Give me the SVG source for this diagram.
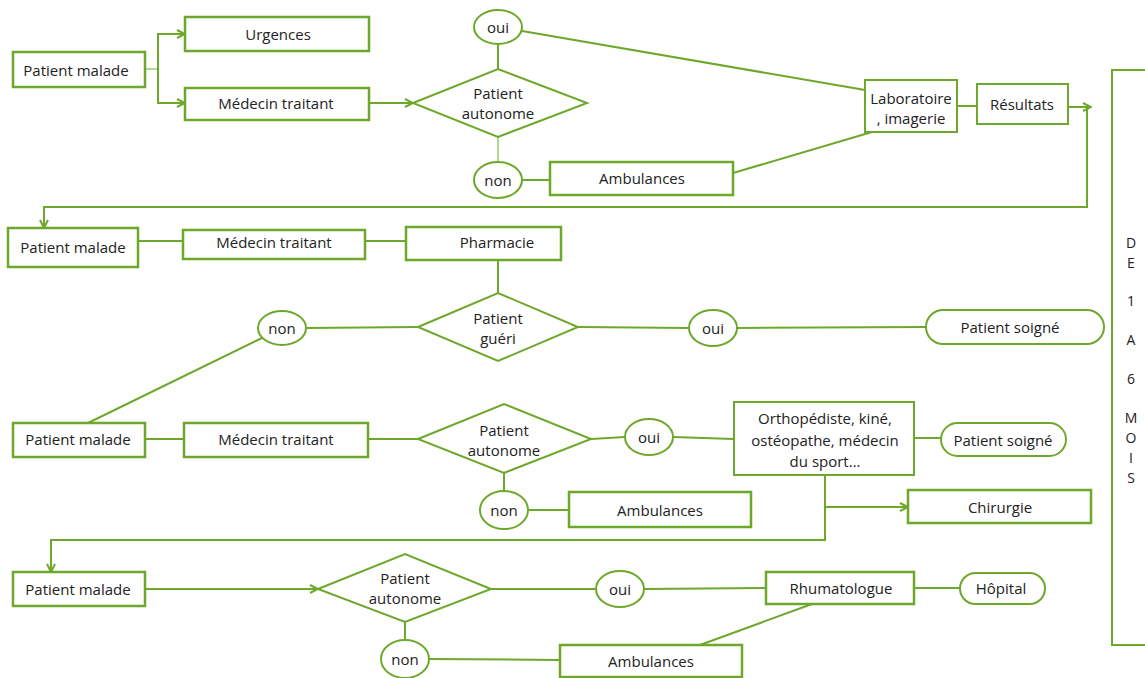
<svg xmlns="http://www.w3.org/2000/svg" width="1145" height="678" viewBox="0 0 1145 678">
<style>
.b{fill:#fff;stroke:#6DA82B;stroke-width:2}
.b2{fill:#fff;stroke:#6DA82B;stroke-width:2.5}
.c{fill:none;stroke:#6DA82B;stroke-width:2}
.cl{fill:none;stroke:#9CC86A;stroke-width:1.5}
text{font-family:"Open Sans","Noto Sans","DejaVu Sans",sans-serif;font-size:15px;fill:#222;text-anchor:middle;dominant-baseline:central}
.v{font-size:14px}
</style>
<defs>
<marker id="ar" viewBox="0 0 10 10" refX="9" refY="5" markerWidth="10" markerHeight="10" markerUnits="userSpaceOnUse" orient="auto">
<path d="M1,1 L9,5 L1,9" fill="none" stroke="#6DA82B" stroke-width="2"/>
</marker>
</defs>
<g id="connectors">
<path class="cl" d="M145,69 H158"/>
<path class="c" d="M158,69 V34 H185" marker-end="url(#ar)"/>
<path class="c" d="M158,69 V103 H185" marker-end="url(#ar)"/>
<path class="c" d="M369,103 H413" marker-end="url(#ar)"/>
<path class="c" d="M498,69 V44"/>
<path class="cl" d="M498,137 V162"/>
<path class="c" d="M522,180 H550"/>
<path class="c" d="M522,31 L865,90"/>
<path class="c" d="M733,173 L872,132"/>
<path class="c" d="M957,106 H977"/>
<path class="c" d="M1068,107 H1091" marker-end="url(#ar)"/>
<path class="c" d="M1087,107 V207 H44 V228" marker-end="url(#ar)"/>
<path class="c" d="M138,241 H183"/>
<path class="c" d="M365,241 H406"/>
<path class="c" d="M498,260 V293"/>
<path class="c" d="M306,328 L418,327"/>
<path class="c" d="M578,327 L689,328"/>
<path class="c" d="M737,328 L926,327"/>
<path class="c" d="M262,338 L88,423"/>
<path class="c" d="M145,439 H184"/>
<path class="c" d="M368,439 H418"/>
<path class="c" d="M591,439 L625,437"/>
<path class="c" d="M673,437 L734,439"/>
<path class="c" d="M914,438 H941"/>
<path class="c" d="M504,473 V491"/>
<path class="c" d="M528,510 H569"/>
<path class="c" d="M825,475 V540 H51 V572" marker-end="url(#ar)"/>
<path class="c" d="M825,507 H908" marker-end="url(#ar)"/>
<path class="c" d="M145,589 H318" marker-end="url(#ar)"/>
<path class="c" d="M491,589 H596"/>
<path class="c" d="M644,589 L766,588"/>
<path class="c" d="M914,588 H960"/>
<path class="c" d="M405,622 V640"/>
<path class="c" d="M429,659 L560,660"/>
<path class="c" d="M812,604 L700,645"/>
<path class="c" d="M1145,70 H1112 V645 H1145"/>
</g>
<g id="n1"><rect class="b2" x="13" y="52" width="132" height="35"/><text x="76" y="70">Patient malade</text></g>
<g id="n2"><rect class="b2" x="185" y="17" width="184" height="34"/><text x="278" y="34">Urgences</text></g>
<g id="n3"><rect class="b2" x="185" y="88" width="184" height="32"/><text x="276" y="103">Médecin traitant</text></g>
<g id="n4"><path class="b" d="M413,103 L498,69 L587,103 L498,137 Z"/><text x="498" y="93">Patient</text><text x="498" y="113">autonome</text></g>
<g id="n5"><ellipse class="b" cx="498" cy="27" rx="24" ry="17"/><text x="498" y="27">oui</text></g>
<g id="n6"><ellipse class="b" cx="498" cy="180" rx="24" ry="18"/><text x="498" y="180">non</text></g>
<g id="n7"><rect class="b2" x="550" y="162" width="183" height="33"/><text x="642" y="178">Ambulances</text></g>
<g id="n8"><rect class="b" x="865" y="80" width="92" height="52"/><text x="911" y="98">Laboratoire</text><text x="911" y="118">, imagerie</text></g>
<g id="n9"><rect class="b" x="977" y="84" width="91" height="40"/><text x="1022" y="104">Résultats</text></g>
<g id="n10"><rect class="b2" x="8" y="228" width="130" height="39"/><text x="73" y="247">Patient malade</text></g>
<g id="n11"><rect class="b2" x="183" y="230" width="182" height="29"/><text x="274" y="242">Médecin traitant</text></g>
<g id="n12"><rect class="b2" x="406" y="227" width="155" height="33"/><text x="497" y="242">Pharmacie</text></g>
<g id="n13"><path class="b" d="M418,327 L498,293 L578,327 L498,361 Z"/><text x="498" y="318">Patient</text><text x="498" y="338">guéri</text></g>
<g id="n14"><ellipse class="b" cx="282" cy="328" rx="24" ry="17"/><text x="282" y="328">non</text></g>
<g id="n15"><ellipse class="b" cx="713" cy="328" rx="24" ry="18"/><text x="713" y="328">oui</text></g>
<g id="n16"><rect class="b" x="926" y="310" width="178" height="34" rx="17"/><text x="1010" y="327">Patient soigné</text></g>
<g id="n17"><rect class="b2" x="13" y="423" width="132" height="34"/><text x="78" y="439">Patient malade</text></g>
<g id="n18"><rect class="b2" x="184" y="423" width="184" height="34"/><text x="276" y="439">Médecin traitant</text></g>
<g id="n19"><path class="b" d="M418,439 L504,404 L591,439 L504,473 Z"/><text x="504" y="430">Patient</text><text x="504" y="450">autonome</text></g>
<g id="n20"><ellipse class="b" cx="649" cy="437" rx="24" ry="18"/><text x="649" y="437">oui</text></g>
<g id="n21"><rect class="b" x="734" y="402" width="180" height="73"/><text x="825" y="418">Orthopédiste, kiné,</text><text x="825" y="440">ostéopathe, médecin</text><text x="825" y="461">du sport…</text></g>
<g id="n22"><rect class="b" x="941" y="423" width="125" height="33" rx="16.5"/><text x="1003" y="440">Patient soigné</text></g>
<g id="n23"><ellipse class="b" cx="504" cy="510" rx="24" ry="19"/><text x="504" y="510">non</text></g>
<g id="n24"><rect class="b2" x="569" y="492" width="182" height="35"/><text x="660" y="510">Ambulances</text></g>
<g id="n25"><rect class="b2" x="908" y="490" width="183" height="33"/><text x="1000" y="507">Chirurgie</text></g>
<g id="n26"><rect class="b2" x="13" y="572" width="132" height="34"/><text x="78" y="589">Patient malade</text></g>
<g id="n27"><path class="b" d="M318,589 L405,554 L491,589 L405,622 Z"/><text x="405" y="578">Patient</text><text x="405" y="598">autonome</text></g>
<g id="n28"><ellipse class="b" cx="620" cy="589" rx="24" ry="18"/><text x="620" y="589">oui</text></g>
<g id="n29"><rect class="b2" x="766" y="572" width="148" height="32"/><text x="841" y="588">Rhumatologue</text></g>
<g id="n30"><rect class="b" x="960" y="573" width="85" height="31" rx="15.5"/><text x="1001" y="588">Hôpital</text></g>
<g id="n31"><ellipse class="b" cx="405" cy="659" rx="24" ry="19"/><text x="405" y="659">non</text></g>
<g id="n32"><rect class="b2" x="560" y="645" width="182" height="32"/><text x="651" y="661">Ambulances</text></g>
<g id="n33">
<text class="v" x="1131" y="242">D</text><text class="v" x="1131" y="262">E</text><text class="v" x="1131" y="300">1</text><text class="v" x="1131" y="339">A</text><text class="v" x="1131" y="378">6</text><text class="v" x="1131" y="417">M</text><text class="v" x="1131" y="437">O</text><text class="v" x="1131" y="457">I</text><text class="v" x="1131" y="477">S</text>
</g>
</svg>
